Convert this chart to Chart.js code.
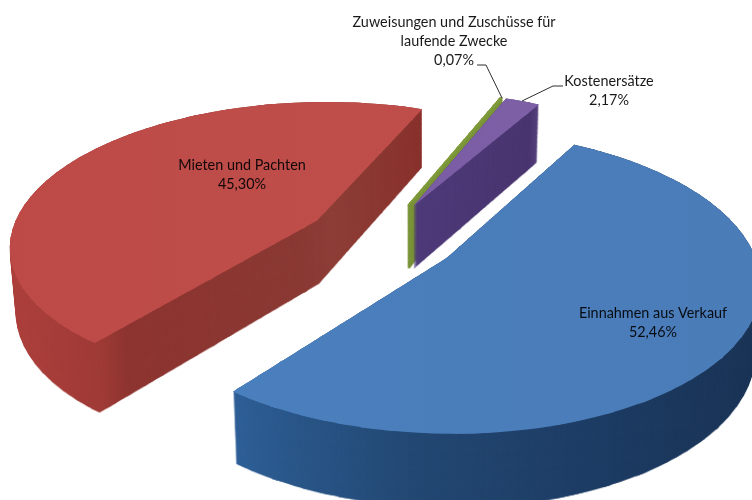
<!DOCTYPE html>
<html>
<head>
<meta charset="utf-8">
<script src="https://cdn.jsdelivr.net/npm/chart.js@4/dist/chart.umd.min.js"></script>
<style>
  html, body { margin: 0; background: #fff; overflow: hidden; }
  canvas { display: block; filter: blur(0.5px); }
</style>
</head>
<body>
<canvas id="pie" width="752" height="500"></canvas>
<script>
// values
const categories = ["Einnahmen aus Verkauf", "Mieten und Pachten", "Zuweisungen und Zuschüsse für laufende Zwecke", "Kostenersätze"]
const shares = [52.46, 45.30, 0.07, 2.17]

// how each label breaks and where it sits
const labelLines = [["Einnahmen aus Verkauf"], ["Mieten und Pachten"], ["Zuweisungen und Zuschüsse für", "laufende Zwecke"], ["Kostenersätze"]]
const labelAnchors = [[653, 313], [242, 165], [454, 22], [609, 81]]
const leaders = [null, null, [[477, 65], [486, 65], [502, 98]], [[563, 86], [553, 86], [522, 101]]]

// top colours and side colours, stops are [screen x, colour]
const topStops = [
  [[232, "#4a7fbd"], [752, "#4a7cb8"]],
  [[12, "#bd4a46"], [421, "#bf4e4b"]],
  [[400, "#7f9a3a"], [510, "#7f9a3a"]],
  [[410, "#7a5ca4"], [540, "#7d60a6"]]
]
const sideStops = [
  [[232, "#2f6098"], [300, "#2a5688"], [420, "#234872"], [560, "#1f3f68"], [752, "#1b3557"]],
  [[15, "#ad413d"], [100, "#9f3b37"], [125, "#8e3531"], [300, "#8b3a34"], [330, "#8e3f38"], [421, "#8a332e"]],
  [[400, "#7a9438"], [510, "#7a9438"]],
  [[408, "#4f3b7a"], [530, "#4a3670"], [540, "#5a4480"]]
]

// camera: unit pie plane -> screen, fitted to the corners of the slices
const cam = [311.9765, 23.41, 380.7702, -27.2878, 101.3836, 237.4977, 0.0471, -0.1473]
const explode = [0.2564, 0.2463, 0.2522, 0.2534]
const pad = 60

const gl = Math.hypot(cam[6], cam[7])
const gx = cam[6] / gl, gy = cam[7] / gl

function project(s, t) {
  const X = s * gx - t * gy, Y = s * gy + t * gx
  const w = cam[6] * X + cam[7] * Y + 1
  return [(cam[0] * X + cam[1] * Y + cam[2]) / w + pad, (cam[3] * X + cam[4] * Y + cam[5]) / w + pad]
}

// affine that takes triangle (s,t) points on to their projected points
function triMatrix(a, b, c) {
  const qa = project(a[0], a[1]), qb = project(b[0], b[1]), qc = project(c[0], c[1])
  const ux = b[0] - a[0], uy = b[1] - a[1], vx = c[0] - a[0], vy = c[1] - a[1]
  const det = ux * vy - uy * vx
  const m0 = ((qb[0] - qa[0]) * vy - (qc[0] - qa[0]) * uy) / det
  const m2 = ((qc[0] - qa[0]) * ux - (qb[0] - qa[0]) * vx) / det
  const m1 = ((qb[1] - qa[1]) * vy - (qc[1] - qa[1]) * uy) / det
  const m3 = ((qc[1] - qa[1]) * ux - (qb[1] - qa[1]) * vx) / det
  return [m0, m1, m2, m3, qa[0] - m0 * a[0] - m2 * a[1], qa[1] - m1 * a[0] - m3 * a[1]]
}

function newLayer() {
  const c = document.createElement("canvas")
  c.width = 752 + pad * 2
  c.height = 500 + pad * 2
  return c
}

// draw the chart's own arc element through the camera, cell by cell
function silhouette(el, i) {
  const layer = newLayer()
  const ctx = layer.getContext("2d")
  const mid = (el.startAngle + el.endAngle) / 2
  const cols = 60, rows = 14, S = 1.8, e = 0.005
  const paint = (m, poly) => {
    ctx.save()
    ctx.setTransform(m[0], m[1], m[2], m[3], m[4], m[5])
    ctx.beginPath()
    poly.forEach((p, n) => n ? ctx.lineTo(p[0], p[1]) : ctx.moveTo(p[0], p[1]))
    ctx.closePath()
    ctx.clip()
    ctx.transform(gx, -gy, gy, gx, 0, 0)
    ctx.translate(explode[i] * Math.cos(mid), explode[i] * Math.sin(mid))
    ctx.scale(1 / el.outerRadius, 1 / el.outerRadius)
    ctx.translate(-el.x, -el.y)
    el.draw(ctx)
    ctx.restore()
  }
  for (let k = 0; k < cols; k++) {
    const s0 = -S + 2 * S * k / cols, s1 = s0 + 2 * S / cols
    for (let r = 0; r < rows; r++) {
      const t0 = -S + 2 * S * r / rows, t1 = t0 + 2 * S / rows
      paint(triMatrix([s0, t0], [s1, t0], [s1, t1]),
        [[s0 - e, t0 - e], [s1 + e, t0 - e], [s1 + e, t1 + e], [s1 - e, t1 + e], [s0 - e, t0]])
      paint(triMatrix([s0, t0], [s1, t1], [s0, t1]),
        [[s0 - e, t0 - e], [s0 + e, t0 - e], [s1 + e, t1], [s1 + e, t1 + e], [s0 - e, t1 + e]])
    }
  }
  return layer
}

function tint(shape, stops) {
  const layer = newLayer()
  const ctx = layer.getContext("2d")
  ctx.drawImage(shape, 0, 0)
  const x0 = stops[0][0], x1 = stops[stops.length - 1][0]
  const grad = ctx.createLinearGradient(x0 + pad, 0, x1 + pad, 0)
  stops.forEach(st => grad.addColorStop((st[0] - x0) / (x1 - x0), st[1]))
  ctx.globalCompositeOperation = "source-in"
  ctx.fillStyle = grad
  ctx.fillRect(0, 0, layer.width, layer.height)
  return layer
}

const pie3d = {
  id: "pie3d",
  beforeDatasetsDraw(chart) {
    const ctx = chart.ctx
    const arcs = chart.getDatasetMeta(0).data
    // back to front
    ;[1, 2, 3, 0].forEach(i => {
      const shape = silhouette(arcs[i], i)
      const side = tint(shape, sideStops[i])
      const top = tint(shape, topStops[i])
      ctx.save()
      for (let z = 1; z > 0; z -= 1 / 70) {
        ctx.setTransform(1 - 0.015 * z, 0, 0, 1 + 0.05 * z, 6.3 * z, 52.4 * z)
        ctx.drawImage(side, -pad, -pad)
      }
      ctx.setTransform(1, 0, 0, 1, 0, 0)
      ctx.drawImage(top, -pad, -pad)
      ctx.restore()
    })
    return false
  },
  afterDraw(chart) {
    const ctx = chart.ctx
    ctx.save()
    ctx.strokeStyle = "#2e2e2e"
    ctx.lineWidth = 1
    leaders.forEach(pts => {
      if (!pts) return
      ctx.beginPath()
      pts.forEach((p, n) => n ? ctx.lineTo(p[0], p[1]) : ctx.moveTo(p[0], p[1]))
      ctx.stroke()
    })
    ctx.font = "14.4px Lato"
    ctx.textAlign = "center"
    ctx.textBaseline = "middle"
    ctx.fillStyle = "rgba(0,0,0,0.9)"
    labelLines.forEach((lines, i) => {
      const a = labelAnchors[i]
      const rows = lines.concat(shares[i].toFixed(2).replace(".", ",") + "%")
      rows.forEach((row, n) => ctx.fillText(row, a[0], a[1] + n * 19))
    })
    ctx.restore()
  }
}

new Chart(document.getElementById("pie"), {
  type: "pie",
  plugins: [pie3d],
  data: {
    labels: categories,
    datasets: [{
      data: shares,
      backgroundColor: "#000",
      borderColor: "#000",
      borderWidth: [0, 0, 2, 0]
    }]
  },
  options: {
    responsive: false,
    animation: false,
    rotation: 45,
    plugins: { legend: { display: false }, tooltip: { enabled: false } }
  }
})
</script>
</body>
</html>
